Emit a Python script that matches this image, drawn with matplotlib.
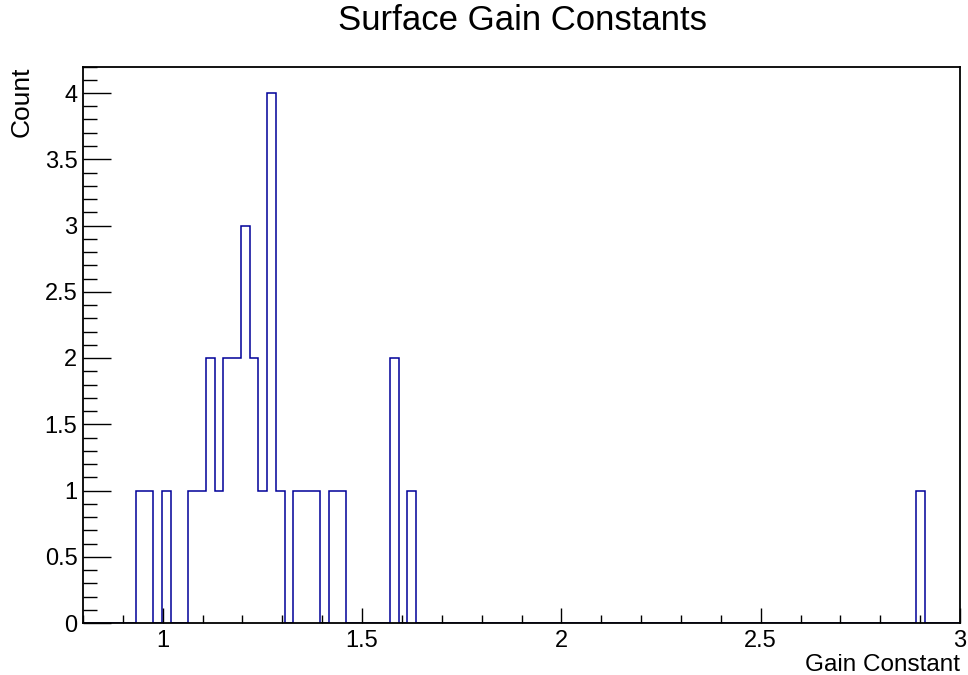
import matplotlib
matplotlib.use("Agg")
import matplotlib.pyplot as plt
from matplotlib.ticker import MultipleLocator, FuncFormatter
import numpy as np

plt.rcParams['font.family'] = ['Liberation Sans', 'DejaVu Sans']

# histogram: 100 bins from 0.8 to 3.0, counts read per bin index
x_min, x_max, n_bins = 0.8, 3.0, 100
filled_bins = [6, 7, 9, 12, 13, 14, 15, 16, 17, 18, 19, 20, 21, 22,
               24, 25, 26, 28, 29, 35, 37, 95]
filled_counts = [1, 1, 1, 1, 1, 2, 1, 2, 2, 3, 2, 1, 4, 1,
                 1, 1, 1, 1, 1, 2, 1, 1]

counts = np.zeros(n_bins)
counts[filled_bins] = filled_counts
edges = np.linspace(x_min, x_max, n_bins + 1)

fig = plt.figure(figsize=(9.68, 6.75), dpi=100)
ax = fig.add_axes([83/968, 52/675, 877/968, 556.5/675])

ax.stairs(counts, edges, baseline=0, fill=False, color='#000099',
          linewidth=1.1, zorder=1)

ax.set_xlim(x_min, x_max)
ax.set_ylim(0, 4.2)

ax.xaxis.set_major_locator(MultipleLocator(0.5))
ax.xaxis.set_minor_locator(MultipleLocator(0.1))
ax.yaxis.set_major_locator(MultipleLocator(0.5))
ax.yaxis.set_minor_locator(MultipleLocator(0.1))
fmt = FuncFormatter(lambda v, p: '{:g}'.format(round(v, 3)))
ax.xaxis.set_major_formatter(fmt)
ax.yaxis.set_major_formatter(fmt)

ax.tick_params(axis='x', which='major', direction='in', length=11, width=1,
               labelsize=17, pad=5)
ax.tick_params(axis='x', which='minor', direction='in', length=6, width=1)
ax.tick_params(axis='y', which='major', direction='in', length=20, width=1,
               labelsize=17, pad=4)
ax.tick_params(axis='y', which='minor', direction='in', length=10, width=1)
for s in ax.spines.values():
    s.set_linewidth(1.3)
    s.set_zorder(3)

ax.set_xlabel('Gain Constant', loc='right', fontsize=17.5)
ax.xaxis.set_label_coords(1.0, -0.056)
ax.set_ylabel('Count', loc='top', fontsize=19, labelpad=8,
              family=['Liberation Sans Narrow', 'Liberation Sans'])
fig.text(522/968, 1 - 20/675, 'Surface Gain Constants', ha='center', va='center',
         fontsize=25)

fig.savefig("out.png")
